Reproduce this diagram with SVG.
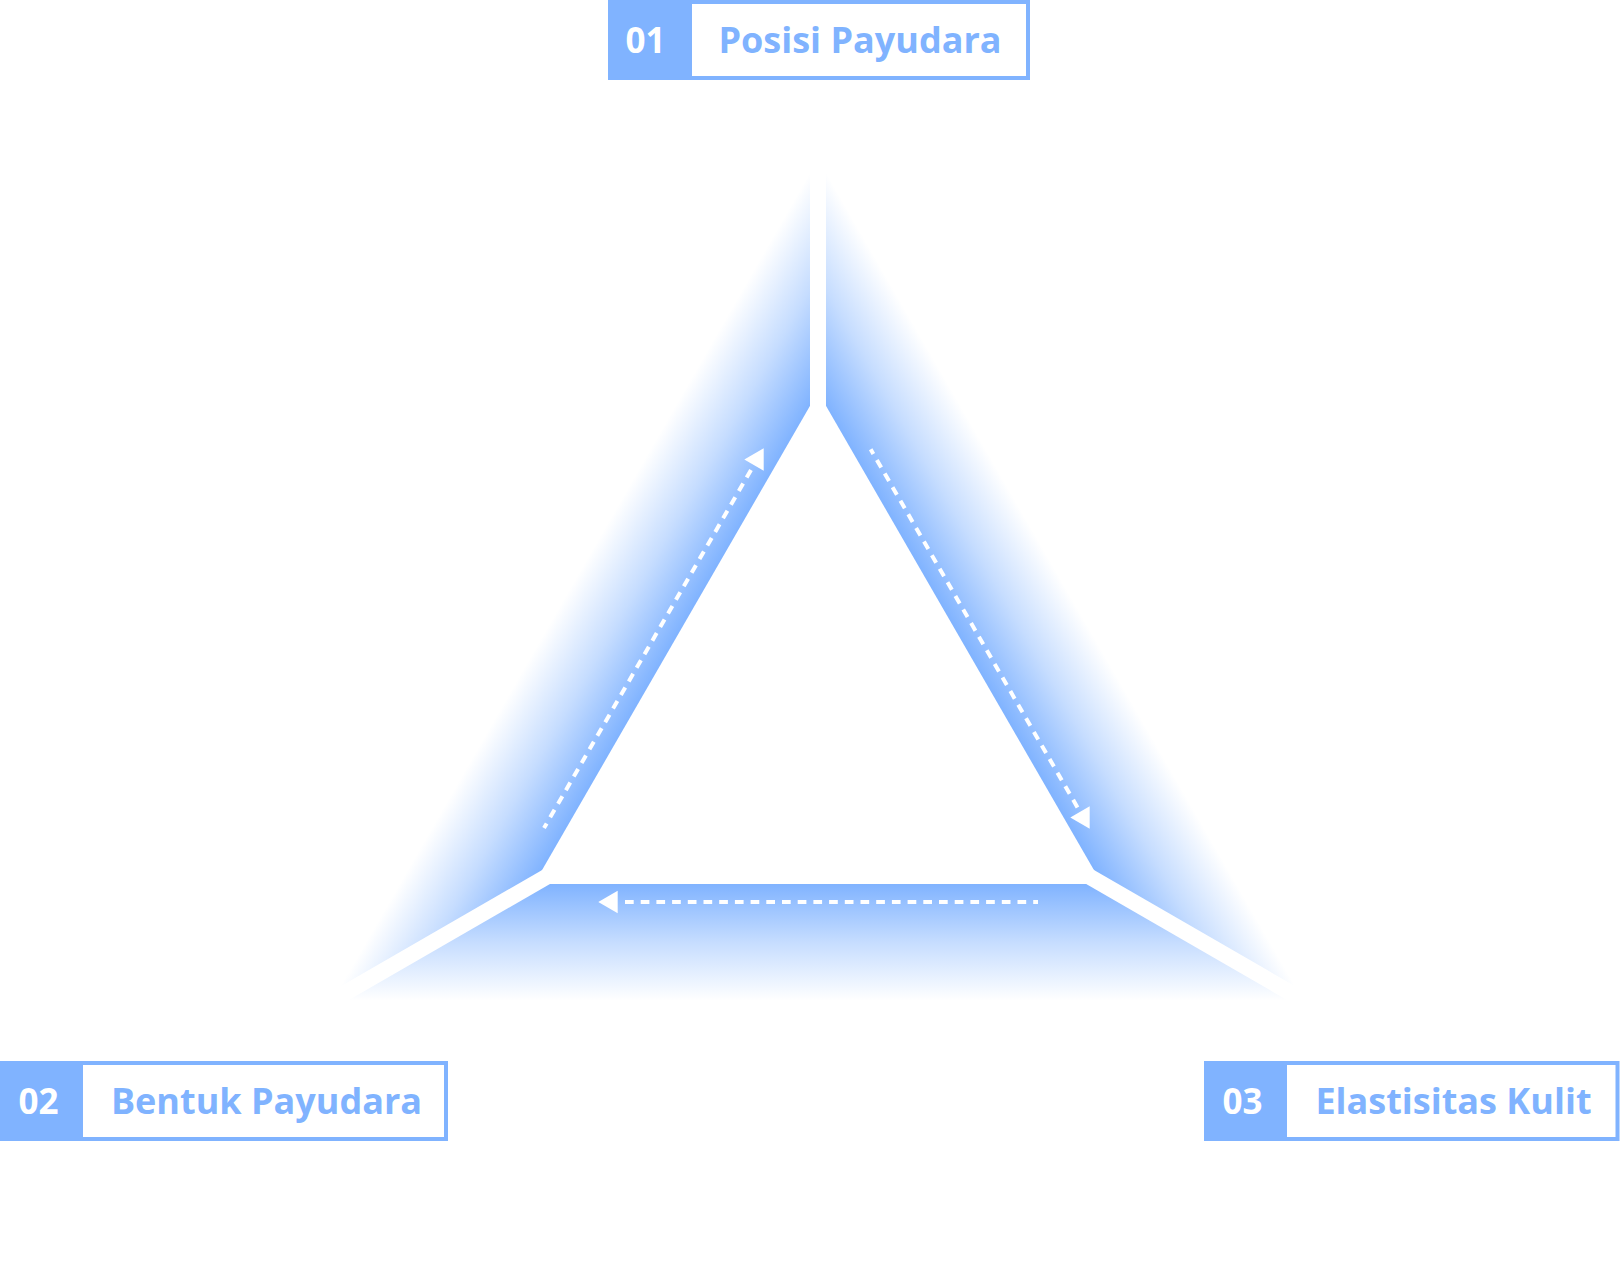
<svg xmlns="http://www.w3.org/2000/svg" xmlns:xlink="http://www.w3.org/1999/xlink" width="1620" height="1280" viewBox="0 0 1620 1280">
  <style>
    .box { fill: #ffffff; stroke: #80b3ff; stroke-width: 4; }
    .num { fill: #80b3ff; }
    .numtxt { font-family: "Open Sans", "Noto Sans", sans-serif; font-weight: 700; font-size: 35px; fill: #ffffff; text-anchor: middle; }
    .lbl { font-family: "Open Sans", "Noto Sans", sans-serif; font-weight: 700; font-size: 36px; fill: #80b3ff; text-anchor: middle; }
    .gap { stroke: #ffffff; stroke-width: 16; fill: none; }
    .dash { stroke: #ffffff; stroke-width: 4; fill: none; stroke-dasharray: 8.7 7; }
    .head { fill: #ffffff; }
  </style>
  <defs>
    <linearGradient id="gL" gradientUnits="userSpaceOnUse" x1="676" y1="638" x2="575" y2="579.75">
      <stop offset="0" stop-color="#80b3ff" stop-opacity="1"/>
      <stop offset="0.5" stop-color="#80b3ff" stop-opacity="0.45"/>
      <stop offset="1" stop-color="#80b3ff" stop-opacity="0"/>
    </linearGradient>
    <linearGradient id="gR" gradientUnits="userSpaceOnUse" x1="960" y1="638" x2="1061" y2="579.75">
      <stop offset="0" stop-color="#80b3ff" stop-opacity="1"/>
      <stop offset="0.5" stop-color="#80b3ff" stop-opacity="0.45"/>
      <stop offset="1" stop-color="#80b3ff" stop-opacity="0"/>
    </linearGradient>
    <linearGradient id="gB" gradientUnits="userSpaceOnUse" x1="818" y1="884" x2="818" y2="1000.5">
      <stop offset="0" stop-color="#80b3ff" stop-opacity="1"/>
      <stop offset="0.5" stop-color="#80b3ff" stop-opacity="0.45"/>
      <stop offset="1" stop-color="#80b3ff" stop-opacity="0"/>
    </linearGradient>
    <polygon id="ah" points="-9.7,0 9.7,-11.3 9.7,11.3"/>
  </defs>
  <rect width="1620" height="1280" fill="#ffffff"/>

  <g id="triangle">
    <polygon points="818,392 534,884 332,1000.5 818,159" fill="url(#gL)"/>
    <polygon points="818,392 1102,884 1304,1000.5 818,159" fill="url(#gR)"/>
    <polygon points="534,884 1102,884 1304,1000.5 332,1000.5" fill="url(#gB)"/>
    <line class="gap" x1="818" y1="720" x2="818" y2="130"/>
    <line class="gap" x1="818" y1="720" x2="255" y2="1045"/>
    <line class="gap" x1="818" y1="720" x2="1381" y2="1045"/>
  </g>

  <g id="connectors">
    <line class="dash" x1="751" y1="470" x2="544" y2="828"/>
    <use xlink:href="#ah" href="#ah" class="head" x="754" y="459.5"/>
    <line class="dash" x1="1077.5" y1="807.4" x2="870.7" y2="449.3"/>
    <use xlink:href="#ah" href="#ah" class="head" x="1080" y="817.5"/>
    <line class="dash" x1="625" y1="902" x2="1038" y2="902"/>
    <use xlink:href="#ah" href="#ah" class="head" x="608" y="902"/>
  </g>

  <g id="node-01">
    <rect class="box" x="610" y="2" width="418" height="76"/>
    <rect class="num" x="608" y="0" width="84" height="80"/>
    <text class="numtxt" x="645.5" y="53">01</text>
    <text class="lbl" x="860" y="53">Posisi Payudara</text>
  </g>

  <g id="node-02">
    <rect class="box" x="2" y="1063" width="444" height="76"/>
    <rect class="num" x="0" y="1061" width="83" height="80"/>
    <text class="numtxt" x="38.5" y="1114">02</text>
    <text class="lbl" x="266.5" y="1114">Bentuk Payudara</text>
  </g>

  <g id="node-03">
    <rect class="box" x="1206" y="1063" width="411.5" height="76"/>
    <rect class="num" x="1204" y="1061" width="83" height="80"/>
    <text class="numtxt" x="1242.5" y="1114">03</text>
    <text class="lbl" x="1453.5" y="1114">Elastisitas Kulit</text>
  </g>
</svg>
